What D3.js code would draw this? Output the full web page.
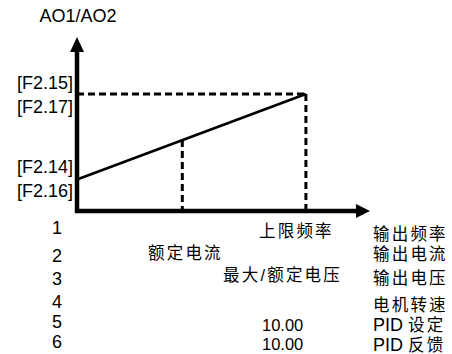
<!DOCTYPE html>
<html>
<head>
<meta charset="utf-8">
<script src="https://cdn.jsdelivr.net/npm/d3@7"></script>
<style>
  body { margin: 0; background: #fff; }
  svg text { fill: #000; }
  .lat { font-family: "Liberation Sans", Arial, sans-serif; font-size: 18px; }
  .num { font-family: "Liberation Sans", Arial, sans-serif; font-size: 16.5px; }
  .cjk { font-family: "Liberation Sans", "Noto Sans CJK SC", sans-serif; font-size: 16.5px; letter-spacing: 2.2px; }
  .cjk .plain { letter-spacing: 0; font-size: 18px; }
</style>
</head>
<body>
<script>
// chart values
const yTitle = "AO1/AO2";
const linePoints = [[0, 27], [100, 100]];      // output line, start and upper point
const markX = [46, 100];                       // rated current, upper limit
const topLabels = ["[F2.15]", "[F2.17]"];      // at y = 100
const bottomLabels = ["[F2.14]", "[F2.16]"];   // at y = 27
const rowNumbers = ["1", "2", "3", "4", "5", "6"];
const rowLimits = ["上限频率", "额定电流", "最大/额定电压", "", "10.00", "10.00"];
const rowNames = ["输出频率", "输出电流", "输出电压", "电机转速", "PID 设定", "PID 反馈"];

const width = 452, height = 354;
const svg = d3.select("body").append("svg")
    .attr("width", width)
    .attr("height", height);

// scales
const x = d3.scaleLinear().domain([0, 128]).range([77, 370]);
const y = d3.scaleLinear().domain([0, 100]).range([211, 94]);
const yTop = 148.7;

// title
svg.append("text").attr("class", "lat")
    .attr("x", 78).attr("y", 22)
    .attr("text-anchor", "middle")
    .text(yTitle);

// dashed guides
const guide = svg.append("g")
    .attr("stroke", "#000")
    .attr("stroke-width", 3)
    .attr("stroke-dasharray", "7,4")
    .attr("fill", "none");

const upper = linePoints[1];
guide.append("line")
    .attr("x1", x(0)).attr("x2", x(upper[0]))
    .attr("y1", y(upper[1])).attr("y2", y(upper[1]));

const lineVal = v => linePoints[0][1] + (linePoints[1][1] - linePoints[0][1]) * (v - linePoints[0][0]) / (linePoints[1][0] - linePoints[0][0]);
markX.forEach(v => {
    guide.append("line")
        .attr("x1", x(v)).attr("x2", x(v))
        .attr("y1", y(lineVal(v))).attr("y2", y(0));
});

// output line
svg.append("path")
    .datum(linePoints)
    .attr("fill", "none")
    .attr("stroke", "#000")
    .attr("stroke-width", 2.6)
    .attr("d", d3.line().x(d => x(d[0])).y(d => y(d[1])));

// axes
const xAxis = svg.append("g")
    .attr("transform", `translate(0,${y(0)})`)
    .call(d3.axisBottom(x).tickValues([]).tickSizeOuter(0));
xAxis.select(".domain")
    .attr("d", `M${x(0) - 2},0H${x(128) - 12}`)
    .attr("stroke-width", 4.5);

const yAxis = svg.append("g")
    .attr("transform", `translate(${x(0)},0)`)
    .call(d3.axisLeft(y).tickValues([]).tickSizeOuter(0));
yAxis.select(".domain")
    .attr("d", `M0,${y(0) + 2}V${y(yTop) + 12}`)
    .attr("stroke-width", 4.5);

// arrow heads
svg.append("path")
    .attr("d", `M${x(0)},${y(yTop)}L${x(0) - 7},${y(yTop) + 15}L${x(0) + 7},${y(yTop) + 15}Z`);
svg.append("path")
    .attr("d", `M${x(128)},${y(0)}L${x(128) - 14},${y(0) - 7}L${x(128) - 14},${y(0) + 7}Z`);

// y labels
topLabels.forEach((t, i) => {
    svg.append("text").attr("class", "lat")
        .attr("x", 73).attr("y", y(100) - 5 + i * 24)
        .attr("text-anchor", "end")
        .text(t);
});
bottomLabels.forEach((t, i) => {
    svg.append("text").attr("class", "lat")
        .attr("x", 73).attr("y", y(27) - 6 + i * 24)
        .attr("text-anchor", "end")
        .text(t);
});

// mixed text: latin runs keep normal spacing
function cjkText(sel, t) {
    const m = t.match(/^([A-Za-z0-9 ]+ )(.*)$/);
    if (m) {
        sel.append("tspan").attr("class", "plain").text(m[1]);
        sel.append("tspan").text(m[2]);
    } else {
        sel.text(t);
    }
}

// table below the axis
const numY = [234, 262, 285, 308, 328, 348];
const nameY = [240, 260, 284, 311, 331, 351];
const limitY = [237, 259, 281, 0, 331, 350];
const limitX = [259, 148, 223, 0, 262, 262];

rowNumbers.forEach((t, i) => {
    svg.append("text").attr("class", "lat")
        .attr("x", 57).attr("y", numY[i])
        .attr("text-anchor", "middle")
        .text(t);
});
rowNames.forEach((t, i) => {
    svg.append("text").attr("class", "cjk")
        .attr("x", 373).attr("y", nameY[i])
        .call(cjkText, t);
});
rowLimits.forEach((t, i) => {
    if (!t) return;
    const txt = svg.append("text").attr("class", /^[0-9.]+$/.test(t) ? "num" : "cjk")
        .attr("x", limitX[i]).attr("y", limitY[i]);
    cjkText(txt, t);
});
</script>
</body>
</html>
